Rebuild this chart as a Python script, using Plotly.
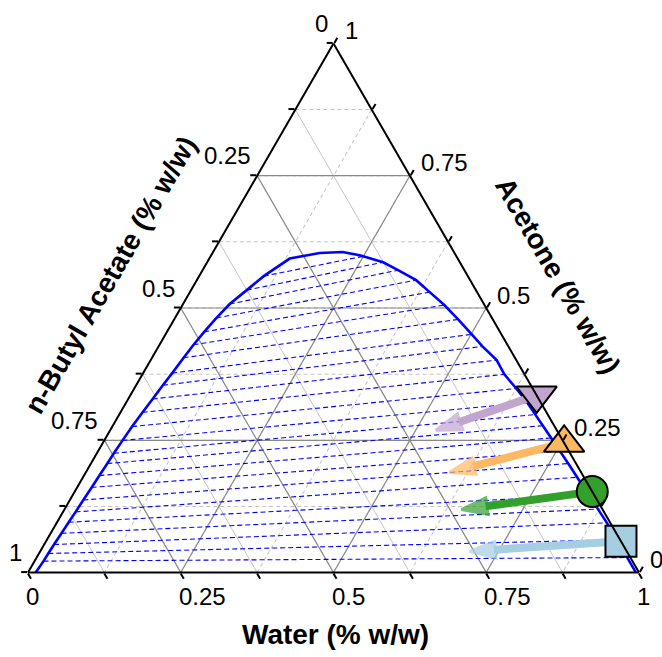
import math
import plotly.graph_objects as go

# ---------------- data (mass fractions) ----------------
# Binodal curve: water / acetone fractions (n-butyl acetate = 1 - water - acetone)
BINODAL_WATER = [0.0126, 0.0146, 0.0151, 0.0161, 0.0177, 0.0191, 0.0206, 0.0219, 0.0237, 0.0252,
                 0.0268, 0.0278, 0.0299, 0.0324, 0.0362, 0.0400, 0.0437, 0.0475, 0.0517, 0.0557,
                 0.0609, 0.0679, 0.0764, 0.0911, 0.1057, 0.1316, 0.1754, 0.2121, 0.2430, 0.2496,
                 0.2880, 0.3200, 0.3590, 0.3925, 0.4285, 0.4648, 0.5012, 0.5301, 0.5663, 0.5923,
                 0.6252, 0.6568, 0.6811, 0.7039, 0.7290, 0.7558, 0.7812, 0.8087, 0.8443, 0.8729,
                 0.9005, 0.9320, 0.9666, 0.9950]
BINODAL_ACETONE = [0.0000, 0.0216, 0.0361, 0.0530, 0.0742, 0.0951, 0.1147, 0.1372, 0.1609, 0.1833,
                   0.2060, 0.2254, 0.2498, 0.2759, 0.3028, 0.3280, 0.3540, 0.3770, 0.4060, 0.4305,
                   0.4549, 0.4812, 0.5075, 0.5338, 0.5602, 0.5934, 0.6040, 0.6058, 0.5996, 0.5977,
                   0.5865, 0.5714, 0.5526, 0.5300, 0.5056, 0.4784, 0.4502, 0.4274, 0.4015, 0.3746,
                   0.3479, 0.3210, 0.2985, 0.2776, 0.2545, 0.2295, 0.2060, 0.1801, 0.1466, 0.1199,
                   0.0940, 0.0620, 0.0284, 0.0000]

# Tie lines: organic-rich end (L) and water-rich end (R)
TIE_L_WATER = [0.0146, 0.0151, 0.0161, 0.0177, 0.0191, 0.0206, 0.0219, 0.0237, 0.0252, 0.0268,
               0.0278, 0.0299, 0.0324, 0.0362, 0.0400, 0.0437, 0.0475, 0.0517, 0.0557, 0.0609,
               0.0679, 0.0764, 0.0911, 0.1057]
TIE_L_ACETONE = [0.0216, 0.0361, 0.0530, 0.0742, 0.0951, 0.1147, 0.1372, 0.1609, 0.1833, 0.2060,
                 0.2254, 0.2498, 0.2759, 0.3028, 0.3280, 0.3540, 0.3770, 0.4060, 0.4305, 0.4549,
                 0.4812, 0.5075, 0.5338, 0.5602]
TIE_R_WATER = [0.9666, 0.9320, 0.9005, 0.8729, 0.8443, 0.8087, 0.7812, 0.7558, 0.7290, 0.7039,
               0.6811, 0.6568, 0.6252, 0.5923, 0.5663, 0.5301, 0.5012, 0.4648, 0.4285, 0.3925,
               0.3590, 0.3200, 0.2880, 0.2496]
TIE_R_ACETONE = [0.0284, 0.0620, 0.0940, 0.1199, 0.1466, 0.1801, 0.2060, 0.2295, 0.2545, 0.2776,
                 0.2985, 0.3210, 0.3479, 0.3746, 0.4015, 0.4274, 0.4502, 0.4784, 0.5056, 0.5300,
                 0.5526, 0.5714, 0.5865, 0.5977]

# Feed points (on water-acetone edge) and arrow end points
FEED_WATER = [0.665, 0.755, 0.847, 0.941]
FEED_ACETONE = [0.335, 0.245, 0.153, 0.059]
ARROW_END_WATER = [0.533, 0.595, 0.650, 0.703]
ARROW_END_ACETONE = [0.269, 0.189, 0.119, 0.040]
FEED_SYMBOLS = ["triangle-down", "triangle-up", "circle", "square"]
FEED_COLORS = ["#c2a5cf", "#fdb863", "#33a02c", "#a6cee3"]
FEED_SIZES = [35, 35, 31, 31]

TICK_VALS = [0, 0.125, 0.25, 0.375, 0.5, 0.625, 0.75, 0.875, 1]
LABEL_VALS = [0, 0.25, 0.5, 0.75, 1]
LABEL_TEXT = ["0", "0.25", "0.5", "0.75", "1"]
MAJOR = [0.25, 0.5, 0.75]

FONT = "Liberation Sans, Arial, sans-serif"

W, H = 662, 657
ML, MR, MT, MB = 28, 23, 42, 83


def bu(w, a):
    return max(0.0, round(1 - w - a, 9))


fig = go.Figure()

# major grid lines (a = acetone, b = butyl acetate, c = water)
ga, gb, gc = [], [], []
for v in MAJOR:
    ga += [v, v, None]; gb += [1 - v, 0, None]; gc += [0, 1 - v, None]          # acetone
    ga += [1 - v, 0, None]; gb += [v, v, None]; gc += [0, 1 - v, None]          # butyl acetate
    ga += [1 - v, 0, None]; gb += [0, 1 - v, None]; gc += [v, v, None]          # water
fig.add_trace(go.Scatterternary(a=ga, b=gb, c=gc, mode="lines",
                                line=dict(color="#8a8a8a", width=1.2), hoverinfo="skip"))

# tie lines
ta, tb, tc = [], [], []
for lw, la, rw, ra in zip(TIE_L_WATER, TIE_L_ACETONE, TIE_R_WATER, TIE_R_ACETONE):
    ta += [la, ra, None]; tb += [bu(lw, la), bu(rw, ra), None]; tc += [lw, rw, None]
fig.add_trace(go.Scatterternary(a=ta, b=tb, c=tc, mode="lines",
                                line=dict(color="#0000ff", width=1.1, dash="5px,3px"), hoverinfo="skip"))

# binodal
fig.add_trace(go.Scatterternary(a=BINODAL_ACETONE,
                                b=[bu(w, a) for w, a in zip(BINODAL_WATER, BINODAL_ACETONE)],
                                c=BINODAL_WATER, mode="lines",
                                line=dict(color="#0000ff", width=2.6), hoverinfo="skip"))

# arrows
for i in range(4):
    aw = [FEED_WATER[i], ARROW_END_WATER[i]]
    aa = [FEED_ACETONE[i], ARROW_END_ACETONE[i]]
    fig.add_trace(go.Scatterternary(
        a=aa, b=[bu(w, a) for w, a in zip(aw, aa)], c=aw, mode="lines+markers",
        line=dict(color=FEED_COLORS[i], width=8),
        marker=dict(symbol=["circle", "arrow"], size=[0, 27], color=FEED_COLORS[i],
                    angleref="previous", line=dict(width=3, color=FEED_COLORS[i])),
        hoverinfo="skip", cliponaxis=False))

# feed markers
for i in range(4):
    fig.add_trace(go.Scatterternary(
        a=[FEED_ACETONE[i]], b=[bu(FEED_WATER[i], FEED_ACETONE[i])], c=[FEED_WATER[i]],
        mode="markers",
        marker=dict(symbol=FEED_SYMBOLS[i], size=FEED_SIZES[i], color=FEED_COLORS[i],
                    line=dict(color="black", width=2)),
        hoverinfo="skip", cliponaxis=False))

axis_common = dict(tickmode="array", tickvals=TICK_VALS, showticklabels=False,
                   ticks="outside", ticklen=6, tickwidth=1.5, tickcolor="black",
                   linecolor="black", linewidth=2, showgrid=True, gridcolor="#c4c4c4",
                   gridwidth=1, title=dict(text=""), min=0)

# ---- paper position of a ternary point (for axis labels only) ----
pw, ph = W - ML - MR, H - MT - MB
tri_w = min(pw, ph * 2 / math.sqrt(3))
tri_h = tri_w * math.sqrt(3) / 2
x0p = (pw - tri_w) / 2 / pw
y0p = (ph - tri_h) / 2 / ph


def paper(a, c):
    return x0p + (c + a / 2) * tri_w / pw, y0p + a * tri_h / ph


tick_font = dict(family=FONT, size=24, color="black")
annotations = []
for v, t in zip(LABEL_VALS, LABEL_TEXT):
    # n-butyl acetate (left edge): point with acetone = 1 - v, water = 0
    x, y = paper(1 - v, 0)
    annotations.append(dict(text=t, x=x, y=y, xref="paper", yref="paper", showarrow=False,
                            xanchor="right", yanchor="middle", xshift=-4, yshift=20, font=tick_font))
    # acetone (right edge): acetone = v, water = 1 - v
    x, y = paper(v, 1 - v)
    annotations.append(dict(text=t, x=x, y=y, xref="paper", yref="paper", showarrow=False,
                            xanchor="left", yanchor="middle", xshift=9, yshift=13, font=tick_font))
    # water (bottom edge): water = v, acetone = 0
    x, y = paper(0, v)
    annotations.append(dict(text=t, x=x, y=y, xref="paper", yref="paper", showarrow=False,
                            xanchor="left", yanchor="middle", xshift=-4, yshift=-24, font=tick_font))

title_font = dict(family=FONT, size=28, color="black")
annotations += [
    dict(text="<b>n-Butyl Acetate (% w/w)</b>", x=(110 - ML) / pw, y=(H - MB - 275) / ph,
         xref="paper", yref="paper", xanchor="center", yanchor="middle",
         showarrow=False, textangle=-60, font=title_font),
    dict(text="<b>Acetone (% w/w)</b>", x=(558 - ML) / pw, y=(H - MB - 275) / ph,
         xref="paper", yref="paper", xanchor="center", yanchor="middle",
         showarrow=False, textangle=60, font=title_font),
    dict(text="<b>Water (% w/w)</b>", x=(335 - ML) / pw, y=(H - MB - 634) / ph,
         xref="paper", yref="paper", xanchor="center", yanchor="middle",
         showarrow=False, font=title_font),
]

fig.update_layout(
    width=W, height=H,
    margin=dict(l=ML, r=MR, t=MT, b=MB),
    paper_bgcolor="white",
    showlegend=False,
    ternary=dict(
        sum=1, bgcolor="white", domain=dict(x=[0, 1], y=[0, 1]),
        aaxis=dict(**axis_common, griddash="4px,3px"),
        baxis=dict(**axis_common, griddash="solid"),
        caxis=dict(**axis_common, griddash="4px,3px"),
    ),
    annotations=annotations,
)

fig.write_html("out.html")
